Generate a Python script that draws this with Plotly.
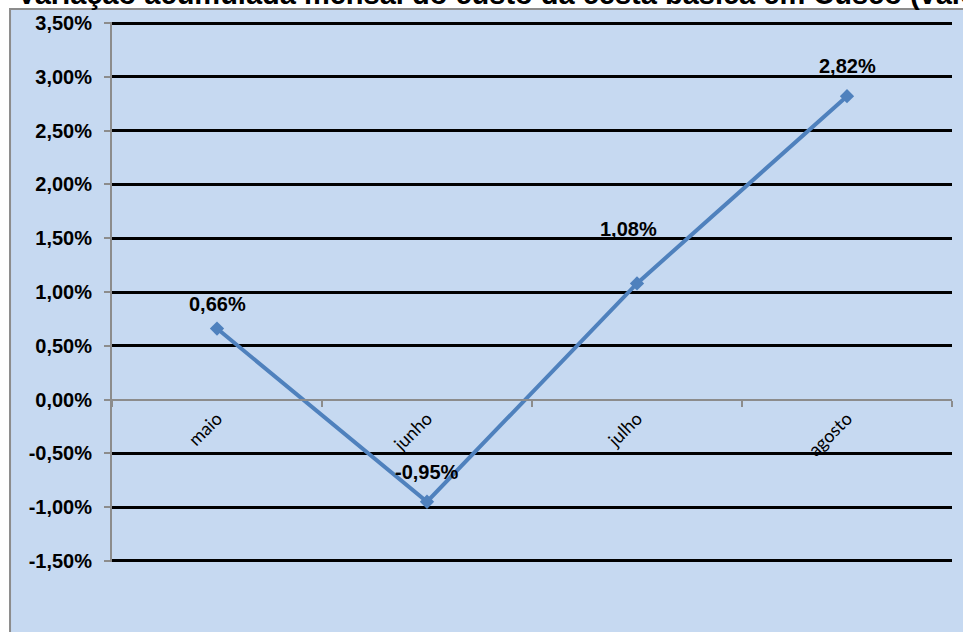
import plotly.graph_objects as go

meses = ["maio", "junho", "julho", "agosto"]
variacao = [0.66, -0.95, 1.08, 2.82]
rotulos = ["0,66%", "-0,95%", "1,08%", "2,82%"]
y_ticks = [3.5, 3.0, 2.5, 2.0, 1.5, 1.0, 0.5, 0.0, -0.5, -1.0, -1.5]
y_tick_labels = ["3,50%", "3,00%", "2,50%", "2,00%", "1,50%", "1,00%", "0,50%",
                 "0,00%", "-0,50%", "-1,00%", "-1,50%"]
titulo = "Variação acumulada mensal do custo da cesta básica em Cusco (valores em %)"

label_shift = [12, 17, 41, 17]
label_xshift = [0, 0, -9, 0]

BG = "#C6D9F1"
LINE = "#4F81BD"

fig = go.Figure()
fig.add_trace(go.Scatter(
    x=meses, y=variacao, mode="lines+markers",
    line=dict(color=LINE, width=4),
    marker=dict(symbol="diamond", size=11, color=LINE),
    hoverinfo="skip", cliponaxis=False,
))

for m, v, t, ys, xs in zip(meses, variacao, rotulos, label_shift, label_xshift):
    fig.add_annotation(x=m, y=v, text="<b>%s</b>" % t, showarrow=False,
                       yanchor="bottom", yshift=ys, xshift=xs,
                       font=dict(family="Liberation Sans, Arial", size=20, color="black"))

fig.add_annotation(xref="paper", yref="paper", x=(15 - 112) / 840, y=1.0185,
                   xanchor="left", yanchor="bottom", showarrow=False,
                   text="<b>%s</b>" % titulo,
                   font=dict(family="Liberation Sans, Arial", size=29, color="black"))

fig.add_shape(type="rect", xref="paper", yref="paper",
              x0=-0.1214, x1=1.05, y0=-0.2, y1=1.0242,
              line=dict(color="#8C8C8C", width=2), fillcolor=BG, layer="below")

fig.update_layout(
    width=963, height=632,
    margin=dict(l=112, r=11, t=22, b=70),
    paper_bgcolor="white", plot_bgcolor=BG,
    showlegend=False,
    xaxis=dict(
        type="category", anchor="free", position=0.3,
        showline=True, linecolor="#8C8C8C", linewidth=2,
        ticks="outside", tickson="boundaries", ticklen=6, tickcolor="#8C8C8C", tickwidth=2,
        tickangle=-45, showgrid=False, zeroline=False,
        tickfont=dict(family="Lato, Open Sans", size=18, color="black"),
        range=[-0.5, 3.5],
    ),
    yaxis=dict(
        range=[-1.51, 3.51], tickmode="array", tickvals=y_ticks, ticktext=y_tick_labels,
        showgrid=True, gridcolor="black", gridwidth=2.5,
        zeroline=True, zerolinecolor="#8C8C8C", zerolinewidth=2,
        showline=True, linecolor="#8C8C8C", linewidth=2,
        ticks="outside", ticklen=6, tickcolor="#8C8C8C", tickwidth=2,
        ticklabelstandoff=8,
        tickfont=dict(family="Liberation Sans, Arial", size=20, color="black", weight="bold"),
    ),
)

fig.write_html("out.html", config={"displayModeBar": False},
               post_script="document.body.style.margin='0';document.body.style.overflow='hidden';")
